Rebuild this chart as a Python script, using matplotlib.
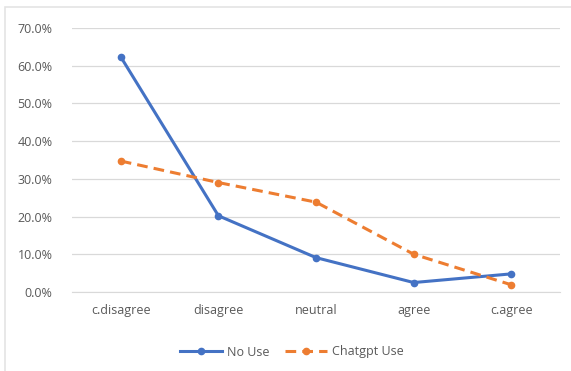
import matplotlib
matplotlib.use("Agg")
import matplotlib.pyplot as plt
from matplotlib.patches import Rectangle
from matplotlib.ticker import FuncFormatter

categories = ["c.disagree", "disagree", "neutral", "agree", "c.agree"]
no_use = [62.3, 20.2, 9.1, 2.5, 4.8]
chatgpt_use = [34.7, 29.0, 23.8, 10.0, 1.9]

plt.rcParams["font.family"] = ["Open Sans", "DejaVu Sans"]

fig = plt.figure(figsize=(5.71, 3.71), dpi=100)
ax = fig.add_axes([0.126, 0.213, 0.855, 0.712])

# faint chart border like excel
fig.patches.append(Rectangle((5 / 571, -0.01), 1.0, 1.0 - 7 / 371 + 0.01,
                             transform=fig.transFigure, fill=False,
                             edgecolor="#e4e4e4", linewidth=1.2))

x = range(len(categories))
ax.plot(x, no_use, color="#4472C4", lw=2.2, marker="o", ms=4.5, label="No Use", zorder=3)
ax.plot(x, chatgpt_use, color="#ED7D31", lw=2.2, ls=(0, (3.5, 2)), marker="o", ms=4.5,
        label="Chatgpt Use", zorder=3)

ax.set_xlim(-0.5, len(categories) - 0.5)
ax.set_ylim(0, 70)
ax.set_yticks(range(0, 71, 10))
ax.yaxis.set_major_formatter(FuncFormatter(lambda v, p: "%.1f%%" % v))
ax.set_xticks(list(x))
ax.set_xticklabels(categories)

ax.grid(axis="y", color="#d9d9d9", lw=0.9)
ax.set_axisbelow(True)
for s in ["top", "right", "left"]:
    ax.spines[s].set_visible(False)
ax.spines["bottom"].set_color("#d9d9d9")
ax.tick_params(axis="both", length=0, colors="#595959", labelsize=9)
ax.tick_params(axis="x", pad=9)
ax.tick_params(axis="y", pad=14)

leg = fig.legend(loc="center", bbox_to_anchor=(292 / 571, 1 - 352 / 371), ncol=2,
                 frameon=False, fontsize=9, handlelength=3.4, handletextpad=0.4,
                 columnspacing=1.2)
for t in leg.get_texts():
    t.set_color("#595959")

fig.savefig("out.png", dpi=100)
